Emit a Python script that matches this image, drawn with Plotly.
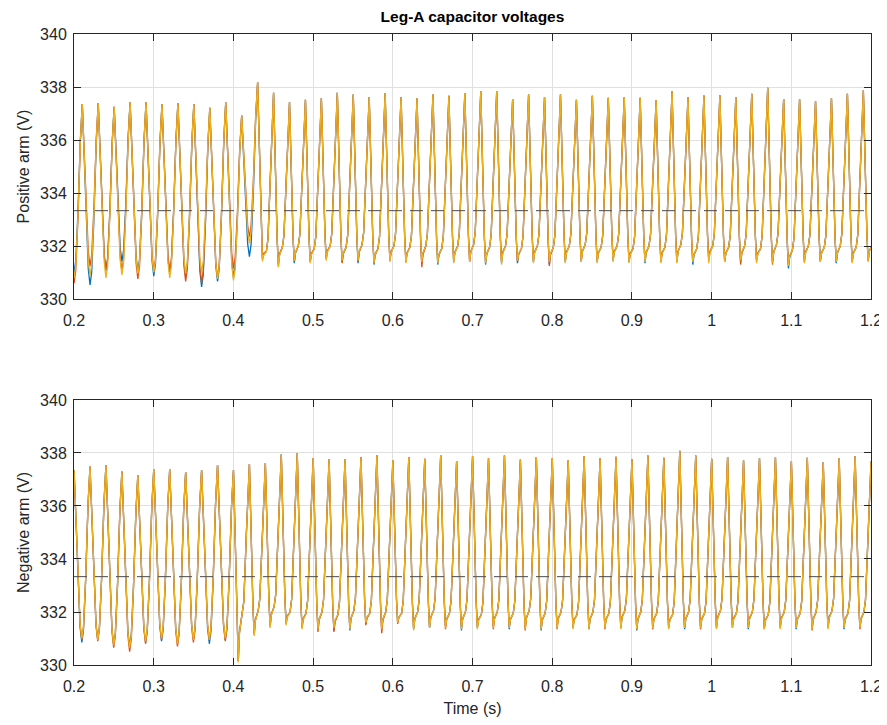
import plotly.graph_objects as go

# ---------------- data ----------------
PERIOD = 0.02                 # 50 Hz ripple
TOP_FIRST_PEAK = 0.1904       # time of first (partly clipped) peak, positive arm
BOT_FIRST_PEAK = 0.2001       # time of first peak, negative arm

x_ticks = [0.2, 0.3, 0.4, 0.5, 0.6, 0.7, 0.8, 0.9, 1.0, 1.1, 1.2]
x_labels = ["0.2", "0.3", "0.4", "0.5", "0.6", "0.7", "0.8", "0.9", "1", "1.1", "1.2"]
y_ticks = [330, 332, 334, 336, 338, 340]
reference_voltage = 1000 / 3

# Positive arm: peak value of every cycle
top_peaks = [337.35,
             337.36, 337.39, 337.25, 337.42, 337.42, 337.35, 337.40, 337.36, 337.22, 337.42,
             336.92, 338.18, 337.78, 337.42, 337.52, 337.57, 337.78, 337.72, 337.62, 337.77,
             337.62, 337.57, 337.72, 337.67, 337.77, 337.84, 337.84, 337.55, 337.72, 337.62,
             337.72, 337.52, 337.67, 337.59, 337.61, 337.59, 337.50, 337.84, 337.61, 337.68,
             337.69, 337.62, 337.74, 337.97, 337.55, 337.54, 337.46, 337.57, 337.74, 337.87,
             337.60]
# troughs before the step (rounded troughs)
top_trough_pre_blue = [331.00, 330.53, 331.06, 331.42, 331.04, 330.86, 330.96, 330.86, 330.46, 330.66, 330.80, 331.60]
top_trough_pre_red = [330.60, 331.23, 331.10, 331.06, 330.76, 331.06, 331.06, 330.66, 330.61, 330.81, 331.15, 332.35]
top_trough_pre_yellow = [330.80, 330.86, 330.80, 330.91, 330.96, 331.00, 330.80, 330.96, 331.00, 330.76, 330.70, 332.10]
# troughs after the step (sharp trough followed by a shoulder)
top_trough_post_blue = [331.50, 331.25, 331.35, 331.40, 331.50, 331.40, 331.35, 331.30, 331.45, 331.40,
                        331.35, 331.30, 331.40, 331.45, 331.30, 331.35, 331.35, 331.40, 331.30, 331.40,
                        331.45, 331.40, 331.45, 331.40, 331.35, 331.45, 331.40, 331.30, 331.45, 331.40,
                        331.40, 331.45, 331.40, 331.15, 331.40, 331.45, 331.35, 331.40, 331.45]
top_trough_post_red = [331.60, 331.35, 331.40, 331.45, 331.55, 331.35, 331.40, 331.40, 331.50, 331.45,
                       331.20, 331.40, 331.45, 331.40, 331.40, 331.45, 331.40, 331.45, 331.25, 331.45,
                       331.40, 331.45, 331.50, 331.45, 331.45, 331.40, 331.45, 331.40, 331.50, 331.45,
                       331.30, 331.45, 331.30, 331.30, 331.45, 331.40, 331.40, 331.45, 331.45]
top_trough_post_yellow = [331.42, 331.20, 331.45, 331.35, 331.45, 331.45, 331.45, 331.35, 331.40, 331.35,
                          331.40, 331.35, 331.35, 331.40, 331.35, 331.30, 331.45, 331.35, 331.40, 331.35,
                          331.40, 331.35, 331.40, 331.35, 331.40, 331.35, 331.35, 331.40, 331.35, 331.40,
                          331.45, 331.35, 331.35, 331.25, 331.35, 331.40, 331.40, 331.35, 331.40]
top_shoulder = [331.80, 331.95, 332.00, 331.90, 332.00, 331.95, 332.05, 331.90, 332.00, 331.95,
                332.00, 331.90, 332.00, 332.05, 331.95, 332.00, 331.90, 332.00, 331.95, 332.00,
                332.05, 331.95, 332.00, 331.90, 332.00, 331.95, 332.05, 331.90, 332.00, 331.95,
                332.00, 331.90, 332.05, 331.85, 332.00, 331.95, 332.00, 331.95, 332.05]

# Negative arm
bot_peaks = [337.35, 337.49, 337.55, 337.30, 337.17, 337.39, 337.39, 337.28, 337.36, 337.55,
             337.36, 337.58, 337.62, 337.94, 338.00, 337.81, 337.77, 337.77, 337.85, 337.91,
             337.72, 337.85, 337.78, 337.92, 337.70, 337.88, 337.80, 337.90, 337.75, 337.85,
             337.80, 337.72, 337.88, 337.80, 337.86, 337.76, 337.90, 337.82, 338.08, 337.90,
             337.78, 337.85, 337.72, 337.80, 337.85, 337.70, 337.82, 337.65, 337.80, 337.88,
             337.70]
bot_trough_pre_blue = [330.85, 330.95, 330.75, 330.70, 330.85, 330.90, 330.80, 330.95, 330.80, 330.95]
bot_trough_pre_red = [330.95, 330.90, 330.65, 330.50, 330.80, 330.95, 330.70, 330.85, 330.95, 330.90]
bot_trough_pre_yellow = [331.00, 330.95, 330.75, 330.65, 330.90, 331.00, 330.80, 330.95, 330.95, 331.00]
bot_trough_post_blue = [330.15,
                        331.15, 331.45, 331.60, 331.40, 331.35, 331.30, 331.30, 331.55, 331.35, 331.60,
                        331.35, 331.40, 331.45, 331.30, 331.40, 331.45, 331.35, 331.40, 331.30, 331.45,
                        331.40, 331.35, 331.45, 331.40, 331.30, 331.45, 331.40, 331.35, 331.45, 331.40,
                        331.50, 331.35, 331.40, 331.45, 331.35, 331.40, 331.45, 331.35, 331.40]
bot_trough_post_red = [330.15,
                       331.20, 331.50, 331.55, 331.45, 331.25, 331.25, 331.40, 331.50, 331.20, 331.55,
                       331.40, 331.45, 331.35, 331.40, 331.45, 331.35, 331.45, 331.30, 331.40, 331.35,
                       331.45, 331.40, 331.35, 331.45, 331.40, 331.35, 331.45, 331.40, 331.35, 331.45,
                       331.40, 331.45, 331.35, 331.40, 331.45, 331.30, 331.40, 331.45, 331.35]
bot_trough_post_yellow = [330.10,
                          331.10, 331.40, 331.50, 331.35, 331.35, 331.40, 331.35, 331.60, 331.35, 331.60,
                          331.30, 331.40, 331.40, 331.35, 331.35, 331.40, 331.40, 331.35, 331.35, 331.40,
                          331.35, 331.35, 331.40, 331.35, 331.35, 331.40, 331.35, 331.40, 331.40, 331.35,
                          331.40, 331.40, 331.35, 331.35, 331.40, 331.35, 331.35, 331.40, 331.40]
bot_shoulder = [331.95, 332.05, 332.20, 332.00, 331.95, 332.00, 331.90, 332.05, 331.95, 332.00,
                331.95, 332.00, 332.05, 331.95, 332.00, 331.90, 332.00, 331.95, 332.05, 331.95,
                332.00, 331.90, 332.00, 331.95, 332.05, 332.00, 331.95, 331.90, 332.00, 331.95,
                332.05, 331.95, 332.00, 331.90, 332.00, 331.95, 332.00, 332.05, 331.95, 332.00]

# Cycle profile (time after peak, fraction of swing)
pre_fall = [(0.0045, 0.48), (0.0075, 0.09)]
pre_trough_time = 0.0097
pre_rise = [(0.0118, 0.07), (0.0145, 0.35), (0.0175, 0.78)]
post_fall = [(0.0045, 0.15)]
post_trough_time = 0.0060
post_shoulder_pts = [(0.0075, 0.6), (0.0110, 1.0)]
post_rise = [(0.0130, 0.08), (0.0163, 0.55)]


def build(first_peak, peaks, troughs_pre, troughs_post, shoulders):
    troughs = troughs_pre + troughs_post
    n_pre = len(troughs_pre)
    t, v = [], []
    for i in range(len(peaks) - 1):
        tp = first_peak + i * PERIOD
        P, Pn, T = peaks[i], peaks[i + 1], troughs[i]
        t.append(tp); v.append(P)
        if i < n_pre:
            for dt, f in pre_fall:
                t.append(tp + dt); v.append(T + f * (P - T))
            t.append(tp + pre_trough_time); v.append(T)
            for dt, f in pre_rise:
                t.append(tp + dt); v.append(T + f * (Pn - T))
        else:
            S = shoulders[i - n_pre]
            for dt, f in post_fall:
                t.append(tp + dt); v.append(T + f * (P - T))
            t.append(tp + post_trough_time); v.append(T)
            for dt, f in post_shoulder_pts:
                t.append(tp + dt); v.append(T + f * (S - T))
            for dt, f in post_rise:
                t.append(tp + dt); v.append(S + f * (Pn - S))
    t.append(first_peak + (len(peaks) - 1) * PERIOD); v.append(peaks[-1])
    return t, v


colors = {"blue": "#0072BD", "red": "#D95319", "yellow": "#EDB120"}
top_series = {
    "blue": (top_trough_pre_blue, top_trough_post_blue),
    "red": (top_trough_pre_red, top_trough_post_red),
    "yellow": (top_trough_pre_yellow, top_trough_post_yellow),
}
bot_series = {
    "blue": (bot_trough_pre_blue, bot_trough_post_blue),
    "red": (bot_trough_pre_red, bot_trough_post_red),
    "yellow": (bot_trough_pre_yellow, bot_trough_post_yellow),
}

fig = go.Figure()
for name, (pre, post) in top_series.items():
    t, v = build(TOP_FIRST_PEAK, top_peaks, pre, post, top_shoulder)
    fig.add_trace(go.Scatter(x=t, y=v, mode="lines", line=dict(color=colors[name], width=1.3),
                             xaxis="x", yaxis="y", showlegend=False, hoverinfo="skip"))
for name, (pre, post) in bot_series.items():
    t, v = build(BOT_FIRST_PEAK, bot_peaks, pre, post, bot_shoulder)
    fig.add_trace(go.Scatter(x=t, y=v, mode="lines", line=dict(color=colors[name], width=1.3),
                             xaxis="x2", yaxis="y2", showlegend=False, hoverinfo="skip"))
for xa, ya in (("x", "y"), ("x2", "y2")):
    fig.add_trace(go.Scatter(x=[x_ticks[0], x_ticks[-1]], y=[reference_voltage, reference_voltage],
                             mode="lines", line=dict(color="#4a4a4a", width=1, dash="13px,8px"),
                             xaxis=xa, yaxis=ya, showlegend=False, hoverinfo="skip"))

FONT = "Liberation Sans, Arial, Helvetica, sans-serif"
AX = "#262626"
common = dict(showgrid=True, gridcolor="#e0e0e0", gridwidth=1, showline=True, linecolor=AX,
              linewidth=1, mirror="ticks", ticks="inside", ticklen=7, tickcolor=AX, zeroline=False,
              automargin=False, tickfont=dict(family=FONT, size=16, color=AX))
xcommon = dict(common, range=[0.2, 1.2], tickvals=x_ticks, ticktext=x_labels, ticklabelstandoff=7)
ycommon = dict(common, range=[330, 340], tickvals=y_ticks, ticktext=[str(v) for v in y_ticks],
               ticklabelstandoff=3)

# the page body has an 8px margin, so the figure is offset by 8px in the window
W, H = 879, 717
fig.update_layout(
    width=W, height=H,
    margin=dict(l=66, r=16, t=26, b=60),
    paper_bgcolor="white", plot_bgcolor="white",
    title=dict(text="<b>Leg-A capacitor voltages</b>", x=0.5, xref="paper",
               y=1 - 9 / H, yref="container", yanchor="middle", xanchor="center",
               font=dict(family=FONT, size=15.5, color="#000000")),
    xaxis=dict(xcommon, domain=[0, 1], anchor="y"),
    yaxis=dict(ycommon, domain=[0.58, 1], anchor="x",
               title=dict(text="Positive arm (V)", font=dict(family=FONT, size=16, color=AX), standoff=6)),
    xaxis2=dict(xcommon, domain=[0, 1], anchor="y2",
                title=dict(text="Time (s)", font=dict(family=FONT, size=16, color=AX), standoff=8)),
    yaxis2=dict(ycommon, domain=[0, 0.42], anchor="x2",
                title=dict(text="Negative arm (V)", font=dict(family=FONT, size=16, color=AX), standoff=6)),
)

fig.write_html("out.html")
